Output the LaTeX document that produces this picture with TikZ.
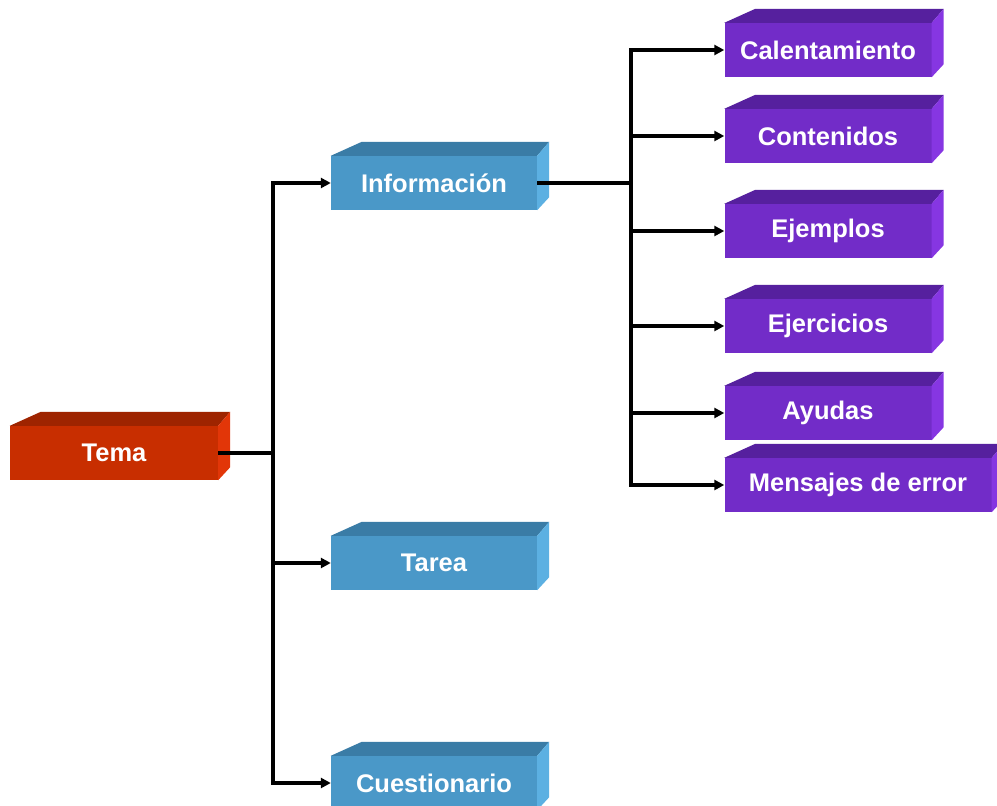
\documentclass[tikz,border=0pt]{standalone}
\usepackage{fontspec}
\setmainfont{Liberation Sans}
\usetikzlibrary{arrows.meta}
\definecolor{redF}{RGB}{200,46,0}
\definecolor{redT}{RGB}{158,36,0}
\definecolor{redS}{RGB}{226,54,8}
\definecolor{bluF}{RGB}{74,152,200}
\definecolor{bluT}{RGB}{58,124,166}
\definecolor{bluS}{RGB}{92,176,226}
\definecolor{purF}{RGB}{114,44,200}
\definecolor{purT}{RGB}{86,32,158}
\definecolor{purS}{RGB}{134,54,226}
\tikzset{
  face/.style={rectangle, inner sep=0pt, minimum height=54pt, text=white,
     font=\fontsize{25.5}{30}\selectfont\bfseries},
  redbox/.style={face, fill=redF, minimum width=208pt},
  blubox/.style={face, fill=bluF, minimum width=206pt},
  purbox/.style={face, fill=purF, minimum width=207pt},
  conn/.style={line width=4pt, black},
  arr/.style={line width=3.2pt, black, -{Triangle[length=10pt,width=10pt]}},
}
\newcommand{\boxsides}[3]{%
  \fill[#2] (#1.north west) -- ++(31,-14) -- ([shift={(12,-14)}]#1.north east) -- (#1.north east) -- cycle;
  \fill[#3] (#1.north east) -- ++(12,-14) -- ([shift={(12,-13)}]#1.south east) -- (#1.south east) -- cycle;
}
\begin{document}
\begin{tikzpicture}[x=1pt,y=-1pt]
\useasboundingbox[fill=white] (0,0) rectangle (997,806);
% front faces
\node[redbox] (tema) at (114,453) {Tema};
\node[blubox] (info) at (434,183) {Información};
\node[blubox] (tarea) at (434,563) {Tarea};
\node[blubox] (cuest) at (434,783) {Cuestionario};
\node[purbox] (cal) at (828,50) {Calentamiento};
\node[purbox] (cont) at (828,136) {Contenidos};
\node[purbox] (ejem) at (828,231) {Ejemplos};
\node[purbox] (ejer) at (828,326) {Ejercicios};
\node[purbox] (ayu) at (828,413) {Ayudas};
\node[purbox, minimum width=267pt] (mens) at (858,485) {Mensajes de error};
% 3D sides
\boxsides{tema}{redT}{redS}
\boxsides{info}{bluT}{bluS}
\boxsides{tarea}{bluT}{bluS}
\boxsides{cuest}{bluT}{bluS}
\boxsides{cal}{purT}{purS}
\boxsides{cont}{purT}{purS}
\boxsides{ejem}{purT}{purS}
\boxsides{ejer}{purT}{purS}
\boxsides{ayu}{purT}{purS}
\boxsides{mens}{purT}{purS}
% connectors
\coordinate (j1) at (273,453);
\coordinate (j2) at (631,183);
\draw[conn] (tema.east) -- (j1);
\draw[arr] (j1) |- (info.west);
\draw[arr] (j1) |- (tarea.west);
\draw[arr] (j1) |- (cuest.west);
\draw[conn] (info.east) -- (j2);
\draw[arr] (j2) |- (cal.west);
\draw[arr] (j2) |- (cont.west);
\draw[arr] (j2) |- (ejem.west);
\draw[arr] (j2) |- (ejer.west);
\draw[arr] (j2) |- (ayu.west);
\draw[arr] (j2) |- (mens.west);
\end{tikzpicture}
\end{document}
